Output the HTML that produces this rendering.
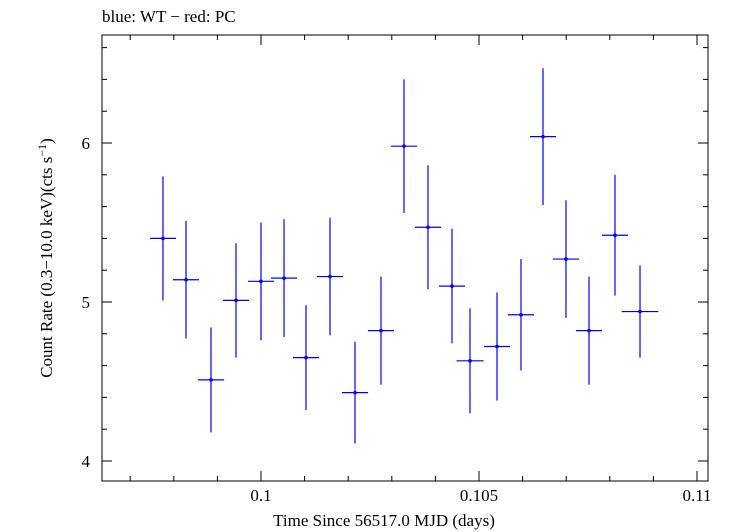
<!DOCTYPE html>
<html><head><meta charset="utf-8"><style>
body{margin:0;background:#fff;}
svg{display:block;font-family:"Liberation Serif",serif;}
</style></head><body>
<svg id="chart" width="730" height="532" viewBox="0 0 730 532">
<text x="102" y="22" font-size="17">blue: WT − red: PC</text>
<rect x="102" y="35" width="606" height="446" fill="none" stroke="#000" stroke-width="1"/>
<g id="ticks"></g>
<g id="marks"></g>
<text x="384" y="526" font-size="17" text-anchor="middle">Time Since 56517.0 MJD (days)</text>
<text transform="translate(52,258) rotate(-90)" font-size="17" text-anchor="middle">Count Rate (0.3−10.0 keV)(cts s<tspan dy="-6" font-size="12">−1</tspan><tspan dy="6">)</tspan></text>
</svg>
<script>
const times=[0.097752,0.098280,0.098853,0.099427,0.1,0.100528,0.101032,0.101583,0.102156,0.102752,0.103280,0.103830,0.104381,0.104794,0.105413,0.105963,0.106468,0.106995,0.107523,0.108119,0.108693];
const timeErr=[0.0003,0.0003,0.0003,0.0003,0.0003,0.0003,0.0003,0.0003,0.0003,0.0003,0.0003,0.0003,0.0003,0.00031,0.0003,0.0003,0.0003,0.0003,0.0003,0.0003,0.00042];
const rates=[5.40,5.14,4.51,5.01,5.13,5.15,4.65,5.16,4.43,4.82,5.98,5.47,5.10,4.63,4.72,4.92,6.04,5.27,4.82,5.42,4.94];
const rateErr=[0.39,0.37,0.33,0.36,0.37,0.37,0.33,0.37,0.32,0.34,0.42,0.39,0.36,0.33,0.34,0.35,0.43,0.37,0.34,0.38,0.29];
const xTickLabels=["0.1","0.105","0.11"];
const yTickLabels=["4","5","6"];
const NS="http://www.w3.org/2000/svg";
const X=v=>261+(v-0.1)*43600;
const Y=v=>302-(v-5)*159;
const L=102,R=708,T=35,B=481;
function line(g,x1,y1,x2,y2,c,w){const e=document.createElementNS(NS,"line");e.setAttribute("x1",x1);e.setAttribute("y1",y1);e.setAttribute("x2",x2);e.setAttribute("y2",y2);e.setAttribute("stroke",c);e.setAttribute("stroke-width",w||1);g.appendChild(e);return e;}
const tg=document.getElementById("ticks");
for(let i=96;i<=111;i++){const v=i/1000;const x=X(v);if(x<L||x>R)continue;const major=i%5===0;const len=major?10:5;
const a=line(tg,x,B,x,B-len,"#000");


const b=line(tg,x,T,x,T+len,"#000");

}
xTickLabels.forEach(s=>{const t=document.createElementNS(NS,"text");t.setAttribute("x",X(parseFloat(s)));t.setAttribute("y",B+20);t.setAttribute("font-size","17");t.setAttribute("text-anchor","middle");t.textContent=s;


tg.appendChild(t);});
for(let i=19;i<=33;i++){const v=i/5;const y=Y(v);if(y<T||y>B)continue;const major=i%5===0;const len=major?10:5;
const a=line(tg,L,y,L+len,y,"#000");


const b=line(tg,R,y,R-len,y,"#000");

}
yTickLabels.forEach(s=>{const t=document.createElementNS(NS,"text");t.setAttribute("x",L-12);t.setAttribute("y",Y(parseFloat(s))+6);t.setAttribute("font-size","17");t.setAttribute("text-anchor","end");t.textContent=s;


tg.appendChild(t);});
const mg=document.getElementById("marks");
times.forEach((t,i)=>{const g=document.createElementNS(NS,"g");


const x=X(t),y=Y(rates[i]);
line(g,X(t-timeErr[i]),y,X(t+timeErr[i]),y,"#0000ff",1.2);
line(g,x,Y(rates[i]+rateErr[i]),x,Y(rates[i]-rateErr[i]),"#0000ff",1.2);
const c=document.createElementNS(NS,"circle");c.setAttribute("cx",x);c.setAttribute("cy",y);c.setAttribute("r",1.8);c.setAttribute("fill","#0000ff");g.appendChild(c);
mg.appendChild(g);});
</script>
</body></html>
